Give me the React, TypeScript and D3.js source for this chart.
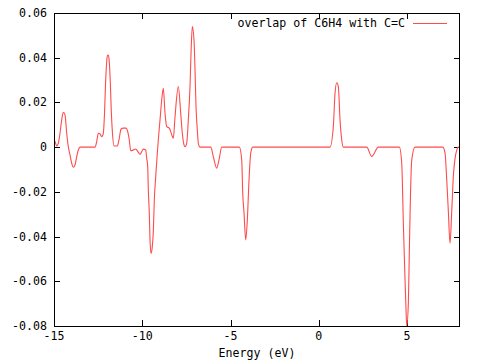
import React from "react";
import * as d3 from "d3";

// Energy (eV) sample points and the overlap values
const energy: number[] = [
  -15.0, -14.943, -14.847, -14.756, -14.66, -14.564, -14.473, -14.377, -14.28, -14.19,
  -14.093, -13.997, -13.907, -13.81, -13.714, -13.623, -13.527, -12.677, -12.581, -12.49,
  -12.394, -12.297, -12.207, -12.139, -12.082, -12.025, -11.969, -11.924, -11.867, -11.81,
  -11.754, -11.686, -11.601, -11.414, -11.32, -11.204, -11.074, -10.921, -10.824, -10.734,
  -10.654, -10.507, -10.371, -10.224, -10.127, -10.031, -9.941, -9.805, -9.748, -9.691,
  -9.657, -9.601, -9.561, -9.504, -9.431, -9.374, -9.317, -9.238, -9.181, -9.091,
  -8.994, -8.898, -8.807, -8.711, -8.615, -8.467, -8.331, -8.241, -8.144, -7.958,
  -7.822, -7.731, -7.635, -7.578, -7.482, -7.391, -7.295, -7.238, -7.164, -7.068,
  -7.011, -6.955, -6.881, -6.824, -6.728, -6.122, -5.975, -5.782, -5.635, -5.499,
  -4.501, -4.365, -4.309, -4.235, -4.139, -4.048, -3.952, -3.856, -3.742, 0.637,
  0.824, 0.921, 1.017, 1.108, 1.204, 1.3, 1.391, 2.717, 3.0, 3.374,
  4.564, 4.7, 4.79, 4.887, 4.943, 4.983, 5.074, 5.13, 5.17, 5.266,
  5.453, 7.023, 7.153, 7.249, 7.34, 7.436, 7.527, 7.623, 7.72, 7.816,
  7.907, 8.0,
];

const overlap: number[] = [
  0.003, 0.0025, 0.0005, 0.0017, 0.0062, 0.0122, 0.0156, 0.0144, 0.0062, 0.0002,
  -0.0035, -0.0072, -0.009, -0.008, -0.0042, -0.0013, 0.0, 0.0, 0.0025, 0.0062,
  0.0059, 0.0047, 0.0062, 0.015, 0.028, 0.037, 0.041, 0.0412, 0.038, 0.029,
  0.016, 0.006, 0.0005, 0.0005, 0.0032, 0.008, 0.0085, 0.0085, 0.0069, 0.0032,
  -0.0016, -0.0013, -0.0008, -0.0023, -0.0032, -0.002, -0.0009, -0.0013, -0.005, -0.0087,
  -0.0191, -0.0296, -0.0415, -0.0475, -0.0445, -0.0378, -0.0236, -0.0132, -0.0065, 0.0032,
  0.0122, 0.0211, 0.0263, 0.0153, 0.0092, 0.0085, 0.0055, 0.004, 0.0136, 0.0271,
  0.0152, 0.0062, 0.001, 0.0002, 0.0017, 0.0122, 0.0271, 0.042, 0.0539, 0.0479,
  0.0345, 0.0181, 0.0077, 0.0017, 0.0, 0.0, -0.0042, -0.0094, -0.005, 0.0,
  0.0, -0.0057, -0.0205, -0.0294, -0.0415, -0.0326, -0.0147, -0.0027, 0.0, 0.0,
  0.0092, 0.0241, 0.0288, 0.0271, 0.0122, 0.0032, 0.0, 0.0, -0.0042, 0.0,
  0.0, -0.0072, -0.034, -0.0594, -0.0728, -0.08, -0.0698, -0.0467, -0.0303, -0.0057,
  0.0, 0.0, -0.0027, -0.0147, -0.0288, -0.043, -0.0296, -0.013, -0.005, -0.0013,
  0.0, 0.0,
];

const xTicks: number[] = [-15, -10, -5, 0, 5];
const yTicks: number[] = [0.06, 0.04, 0.02, 0, -0.02, -0.04, -0.06, -0.08];
const xTickLabels: string[] = ["-15", "-10", "-5", "0", "5"];
const yTickLabels: string[] = ["0.06", "0.04", "0.02", "0", "-0.02", "-0.04", "-0.06", "-0.08"];
const seriesName = "overlap of C6H4 with C=C";
const xLabel = "Energy (eV)";

const W = 480;
const H = 360;
const left = 54;
const right = 460;
const top = 13;
const bottom = 326;
const tickLen = 6;
const font = "'DejaVu Sans Mono', 'Liberation Mono', monospace";
const fs = 11.6;
const red = "#ff4b4b";

export default function App() {
  const x = d3.scaleLinear().domain([-15, 8]).range([left, right]);
  const y = d3.scaleLinear().domain([-0.08, 0.06]).range([bottom, top]);
  const pts: [number, number][] = energy.map((e, i) => [e, overlap[i]]);
  const line = d3
    .line<[number, number]>()
    .x((d) => x(d[0]))
    .y((d) => y(d[1]))
    .curve(d3.curveMonotoneX);

  return (
    <svg
      width={W}
      height={H}
      style={{ position: "fixed", left: 0, top: 0, background: "#fff" }}
    >
      <rect x={0} y={0} width={W} height={H} fill="#fff" />
      <defs>
        <clipPath id="plotclip">
          <rect x={left} y={top - 1} width={right - left} height={bottom - top + 2} />
        </clipPath>
      </defs>
      {/* y ticks */}
      {yTicks.map((t, i) => (
        <g key={"y" + i}>
          <line x1={left} x2={left + tickLen} y1={Math.round(y(t)) + 0.5} y2={Math.round(y(t)) + 0.5} stroke="#000" />
          <line x1={right - tickLen} x2={right} y1={Math.round(y(t)) + 0.5} y2={Math.round(y(t)) + 0.5} stroke="#000" />
          <text
            x={left - 7}
            y={y(t) + 4}
            textAnchor="end"
            fontFamily={font}
            fontSize={fs}
            fill="#000"
          >
            {yTickLabels[i]}
          </text>
        </g>
      ))}
      {/* x ticks */}
      {xTicks.map((t, i) => (
        <g key={"x" + i}>
          <line x1={Math.round(x(t)) + 0.5} x2={Math.round(x(t)) + 0.5} y1={bottom} y2={bottom - tickLen} stroke="#000" />
          <line x1={Math.round(x(t)) + 0.5} x2={Math.round(x(t)) + 0.5} y1={top} y2={top + tickLen} stroke="#000" />
          <text
            x={x(t)}
            y={bottom + 14}
            textAnchor="middle"
            fontFamily={font}
            fontSize={fs}
            fill="#000"
          >
            {xTickLabels[i]}
          </text>
        </g>
      ))}
      <text
        x={(left + right) / 2}
        y={357}
        textAnchor="middle"
        fontFamily={font}
        fontSize={fs}
        fill="#000"
      >
        {xLabel}
      </text>
      {/* data */}
      <path
        d={line(pts) || ""}
        fill="none"
        stroke={red}
        strokeWidth={1.1}
        clipPath="url(#plotclip)"
      />
      {/* legend */}
      <text
        x={405}
        y={27}
        textAnchor="end"
        fontFamily={font}
        fontSize={fs}
        fill="#000"
      >
        {seriesName}
      </text>
      <line x1={413} x2={447} y1={23.5} y2={23.5} stroke={red} strokeWidth={1.1} />
      {/* frame */}
      <rect
        x={left + 0.5}
        y={top + 0.5}
        width={right - left - 1}
        height={bottom - top}
        fill="none"
        stroke="#000"
      />
    </svg>
  );
}
